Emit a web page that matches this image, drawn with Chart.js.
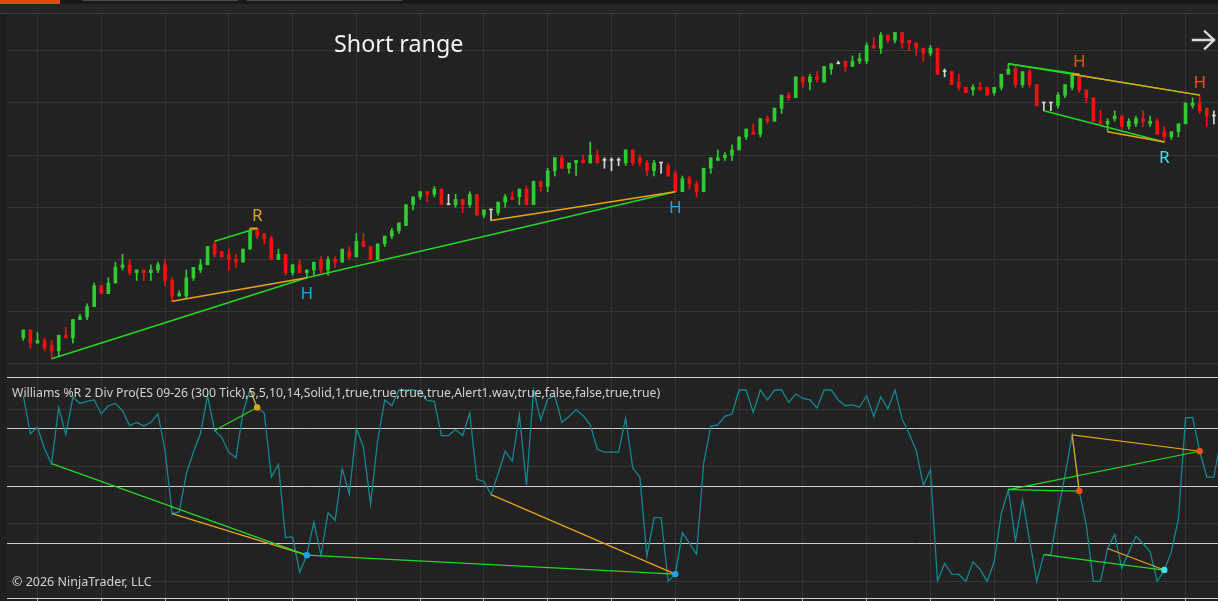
<!DOCTYPE html>
<html lang="en">
<head>
<meta charset="UTF-8">
<title>ES 09-26 (300 Tick) - Williams %R 2 Div Pro</title>
<script src="https://cdn.jsdelivr.net/npm/chart.js"></script>
<style>
  html, body { margin: 0; padding: 0; background: #1e1e1e; overflow: hidden; }
  #wrap { position: relative; width: 1218px; height: 601px; }
  .strip { position: absolute; left: 0; top: 0; width: 1218px; height: 4px; background: #191919; }
  .tab-on { position: absolute; left: 0; top: 0; width: 60px; height: 4px; background: #e2480f; }
  .tab { position: absolute; top: 0; height: 1px; background: #4a4a4a; }
  .band { position: absolute; left: 0; top: 4px; width: 1218px; height: 9px; background: #252525; border-bottom: 1px solid #3b3b3b; }
  canvas { position: absolute; left: 0; }
  #priceCanvas { top: 0; }
  #wrCanvas { top: 377px; }
  .rule { position: absolute; left: 7px; width: 1211px; height: 1px; background: #cdcdcd; }
  .txt { position: absolute; font-family: "Noto Sans", sans-serif; white-space: nowrap; }
  #title { left: 334px; top: 31px; font-size: 23.3px; line-height: 24px; color: #f2f2f2; }
  #indName { left: 12px; top: 387px; font-size: 12.25px; line-height: 12.5px; color: #d2d2d2; }
  #copy { left: 12px; top: 576px; font-size: 12.5px; line-height: 12.5px; color: #d2d2d2; }
  #arrow { position: absolute; left: 1190px; top: 28px; }
</style>
</head>
<body>
<div id="wrap">
  <div class="strip"></div>
  <div class="tab-on"></div>
  <div class="tab" style="left:83px;width:155px"></div>
  <div class="tab" style="left:247px;width:155px"></div>
  <div class="band"></div>
  <canvas id="priceCanvas" width="1218" height="377"></canvas>
  <canvas id="wrCanvas" width="1218" height="224"></canvas>
  <div class="rule" style="top:377px"></div>
  <div class="txt" id="title">Short range</div>
  <div class="txt" id="indName">Williams %R 2 Div Pro(ES 09-26 (300 Tick),5,5,10,14,Solid,1,true,true,true,true,Alert1.wav,true,false,false,true,true)</div>
  <div class="txt" id="copy">© 2026 NinjaTrader, LLC</div>
  <svg id="arrow" width="28" height="24" viewBox="0 0 28 24">
    <path d="M3 12 H24 M15 3.5 L24 12 L15 20.5" fill="none" stroke="#d9d9d9" stroke-width="2.4" stroke-linecap="square"/>
  </svg>
</div>

<script>
  // ES 09-26, 300 tick bars
  const open = [
    6492.5, 6493.25, 6492, 6492.25, 6491.75, 6491.25, 6492.75, 6492.5, 6494.25, 6494.5,
    6495.5, 6497.5, 6496.75, 6497.75, 6499.25, 6499.5, 6498.75, 6499, 6498.75, 6499,
    6499.5, 6498, 6496.5, 6496.5, 6498.25, 6499, 6499.5, 6501.5, 6500.75, 6500.5,
    6500, 6499.75, 6501, 6503, 6502.5, 6502, 6500, 6500.5, 6498.75, 6499.5,
    6498.75, 6499, 6500, 6499, 6500, 6499.75, 6500.75, 6500.25, 6501.75, 6501.25,
    6500, 6501.5, 6502.25, 6502.75, 6503.25, 6505.25, 6506, 6506.5, 6506.25, 6506.75,
    6505.25, 6505.25, 6505.75, 6505.25, 6506.25, 6504.25, 6504.75, 6504.5, 6505.5, 6506,
    6506, 6506.75, 6505.25, 6507.5, 6507, 6508.5, 6509.75, 6508.75, 6509.25, 6509.5,
    6509.25, 6510, 6509.5, 6509.5, 6509.5, 6509.25, 6510.5, 6509.75, 6509.25, 6508.5,
    6509.25, 6509, 6508.25, 6506.5, 6507.75, 6507.25, 6506.5, 6508.75, 6509.5, 6509.75,
    6510, 6510.5, 6511.75, 6512.25, 6512, 6513.5, 6513.25, 6514.5, 6515.75, 6515.5,
    6517.5, 6517, 6517.5, 6517, 6518.25, 6518.75, 6519, 6518.5, 6519, 6519,
    6520.5, 6520.25, 6521.5, 6521, 6521.75, 6521, 6520.75, 6520.25, 6519.75, 6520.25,
    6518, 6518, 6517, 6516.5, 6516.25, 6516.5, 6516.5, 6516, 6516.5, 6517.75,
    6518.25, 6516.75, 6518, 6516.75, 6515, 6515, 6514.75, 6515.75, 6516.5, 6517.5,
    6516.25, 6515.5, 6513.25, 6513, 6513.5, 6513.75, 6512.75, 6513, 6513.5, 6513,
    6513.25, 6512.25, 6511.75, 6512.25, 6513, 6514.75, 6515, 6514.5, 6513.75
  ];
  const high = [
    6493.25, 6493.25, 6493, 6492.5, 6492.25, 6492.75, 6493.5, 6494.25, 6494.75, 6495.75,
    6497.75, 6497.5, 6498.25, 6499.75, 6500.5, 6500, 6499, 6499, 6499.5, 6499.75,
    6500, 6498.25, 6497, 6499, 6499.25, 6500, 6501.25, 6501.75, 6500.75, 6501,
    6500.5, 6501, 6503, 6503, 6502.5, 6502.25, 6501, 6500.5, 6499.5, 6500,
    6499, 6499.75, 6500.25, 6500.25, 6500.25, 6501, 6501.25, 6502.5, 6502.5, 6501.25,
    6501.5, 6502.25, 6503, 6503.5, 6505.25, 6506, 6506.5, 6506.5, 6507, 6506.75,
    6506.25, 6506.25, 6505.75, 6506.5, 6506.25, 6504.75, 6504.75, 6505.5, 6506.25, 6506.5,
    6506.75, 6507, 6507.5, 6507.5, 6508.75, 6509.75, 6510, 6509.25, 6509.5, 6510,
    6511.25, 6510.5, 6509.75, 6509.75, 6509.75, 6510.5, 6510.5, 6510, 6509.5, 6509.5,
    6509.25, 6509.25, 6508.5, 6508, 6508, 6507.5, 6508.75, 6509.75, 6510.5, 6510.25,
    6511, 6511.75, 6512.5, 6513, 6513.5, 6513.75, 6514.5, 6515.75, 6516, 6517.5,
    6517.5, 6517.75, 6518, 6518.5, 6518.75, 6519, 6519, 6519.5, 6519.75, 6520.75,
    6521.25, 6521.75, 6521.5, 6521.75, 6521.75, 6521, 6520.75, 6520.25, 6520.5, 6520.25,
    6518.25, 6518, 6517.75, 6516.5, 6516.75, 6517, 6516.5, 6516.5, 6517.75, 6518.75,
    6518.5, 6518, 6518.25, 6516.75, 6515, 6515, 6516, 6516.75, 6517.75, 6517.75,
    6516.25, 6515.5, 6514.25, 6513.5, 6514.25, 6513.75, 6513.5, 6513.75, 6514.25, 6513.75,
    6513.5, 6512.75, 6512.25, 6513, 6515, 6515.5, 6515.75, 6514.5, 6514.25
  ];
  const low = [
    6492.25, 6491.5, 6492, 6491.25, 6490.5, 6490.75, 6492.5, 6492, 6494.25, 6494.25,
    6495.5, 6496.75, 6496.75, 6497.75, 6499, 6498.5, 6498, 6498, 6498, 6498.75,
    6497.5, 6496, 6496.5, 6496.25, 6498, 6498.75, 6499.5, 6500.25, 6500.25, 6499,
    6499.25, 6499.75, 6501, 6502, 6501.5, 6500, 6500, 6498.5, 6498.5, 6498.75,
    6498.25, 6498.5, 6498.75, 6498.5, 6499.25, 6499.75, 6500, 6500.25, 6501.25, 6500,
    6500, 6501.25, 6502, 6502.5, 6503.25, 6504.75, 6505.75, 6505.5, 6506, 6505.25,
    6505.25, 6505, 6504.5, 6505, 6504.25, 6504, 6503.75, 6504.25, 6505, 6505.75,
    6505.25, 6505.25, 6505.25, 6506.5, 6506.5, 6508, 6508.75, 6508.25, 6508, 6509.25,
    6509.25, 6509.25, 6508.75, 6508.5, 6509, 6509, 6509, 6509, 6508, 6508,
    6508.25, 6508, 6506.5, 6506.5, 6506.75, 6506, 6506.5, 6508.25, 6509.5, 6509.5,
    6509.5, 6510.5, 6511.5, 6512, 6511.75, 6513, 6513.25, 6514, 6515.25, 6515.5,
    6516.5, 6516.25, 6517, 6517, 6517.75, 6518.75, 6518, 6518.5, 6518.75, 6518.75,
    6520.25, 6519.75, 6520.75, 6520.75, 6520.25, 6520, 6519.5, 6519, 6519.5, 6517.75,
    6517.5, 6516.75, 6516.25, 6516, 6515.75, 6516.25, 6515.75, 6515.75, 6516.25, 6517.75,
    6516.5, 6516.5, 6516.5, 6514.75, 6514.25, 6514.25, 6514.5, 6515.5, 6516.25, 6516,
    6515, 6513.25, 6513, 6512.25, 6513.25, 6512.5, 6512.5, 6512.75, 6512.75, 6512.75,
    6512, 6511.25, 6511.5, 6511.75, 6513, 6514.5, 6514, 6512.75, 6513
  ];
  const close = [
    6493.25, 6492, 6492.25, 6491.5, 6491.25, 6492.75, 6492.5, 6494.25, 6494.5, 6495.5,
    6497.5, 6496.75, 6497.75, 6499.25, 6499.5, 6498.75, 6499, 6498.75, 6499, 6499.5,
    6498, 6496.5, 6496.75, 6498.25, 6499.25, 6499.5, 6501.25, 6500.5, 6500.25, 6500,
    6499.75, 6501, 6502.75, 6502.25, 6502, 6500, 6500.5, 6498.75, 6499.5, 6498.75,
    6499, 6499.75, 6499, 6500, 6499.75, 6501, 6500.25, 6501.75, 6501.25, 6500,
    6501.5, 6502.25, 6502.75, 6503.5, 6505.25, 6506, 6506.5, 6506.25, 6506.75, 6505.25,
    6505.25, 6505.75, 6505.25, 6506.25, 6504.25, 6504.75, 6504.75, 6505.5, 6506, 6505.75,
    6506.75, 6505.25, 6507.5, 6507, 6508.5, 6509.75, 6508.75, 6509.25, 6509.5, 6509.25,
    6510, 6509.25, 6509.5, 6509.5, 6509.5, 6510.5, 6509.25, 6509.25, 6508.5, 6509.25,
    6509.25, 6508, 6506.5, 6507.75, 6507.25, 6506.5, 6508.75, 6509.75, 6509.75, 6510,
    6510.5, 6511.75, 6512.5, 6512, 6513.5, 6513.25, 6514.5, 6515.75, 6515.5, 6517.5,
    6517, 6517.5, 6517.25, 6518.5, 6518.75, 6518.75, 6518.5, 6519, 6519.25, 6520.5,
    6520.25, 6521.5, 6521, 6521.75, 6520.75, 6520.75, 6520.25, 6519.75, 6520.25, 6517.75,
    6518, 6516.75, 6516.5, 6516, 6516.5, 6516.25, 6515.75, 6516.5, 6517.75, 6518.25,
    6516.75, 6518, 6516.75, 6514.75, 6515, 6515, 6515.75, 6516.75, 6517.75, 6516.25,
    6515.5, 6513.25, 6513, 6513.25, 6513.75, 6512.75, 6513.25, 6513.5, 6513.25, 6513.25,
    6512, 6511.75, 6512.25, 6513, 6515, 6515, 6514.25, 6513.75, 6513.75
  ];

  // Williams %R (14), one value per bar (last one is the bar just past the right edge)
  const willR = [
    -3, -22.9, -19.5, -30.7, -38.5, -9.1, -23.3, -3.8, -7, -5.9,
    -5.1, -12.5, -8.2, -7, -10.8, -18.6, -16.9, -18.8, -16.9, -12.5,
    -31.6, -64.6, -63.7, -43.8, -32.5, -22.9, -3, -21.2, -24.7, -32.5,
    -35.4, -11.7, 0, -9.1, -12, -45.5, -38.9, -77.1, -76.8, -95.3,
    -86.3, -69, -86.3, -64.1, -68.1, -41.1, -54.5, -20.3, -29.9, -59.7,
    -26.4, -5.2, -8.2, 0, 0, 0, -0.7, -5.6, -5.9, -23.8,
    -23.8, -20.7, -23.8, -12, -46.7, -47.8, -54.7, -43.8, -32, -37.3,
    -13, -49.8, 0, -15.6, -4.7, -3, -16.9, -13.8, -10.3, -13.4,
    -18.2, -31.1, -32.5, -32.5, -32.5, -14.6, -40.8, -45.5, -86.8, -66.7,
    -66.7, -100, -96.2, -74.5, -80.2, -85.8, -38.5, -19, -18.2, -13.8,
    -12.5, 0, 0, -11.7, 0, -5.2, 0, 0, -6.5, -2.1,
    -4.4, -5.1, -9.4, 0, 0, -5.2, -8.2, -7.8, -8.9, -3,
    -13.8, -3.5, -9.9, 0, -15.1, -22.9, -31.6, -49.8, -41.7, -100,
    -90.6, -96.2, -96.4, -100, -89.8, -93.6, -100, -89.8, -64.6, -52.1,
    -78.8, -57.3, -78.5, -100, -86, -86, -63.7, -44.3, -23.4, -52.8,
    -70.7, -100, -100, -82.8, -75.5, -93.2, -84.6, -76.4, -80.2, -84.6,
    -100, -94.1, -84.6, -67.2, -14.6, -14.3, -32, -45.5, -45.5, -25
  ];

  // divergence segments: from bar -> to bar; 'g' = main line, 'o' = secondary
  const divFrom = [4, 21, 27, 32, 40, 66, 139, 148, 139, 148, 144, 153];
  const divTo = [40, 40, 33, 33, 92, 92, 149, 149, 166, 166, 161, 161];
  const divKind = ['g', 'o', 'g', 'o', 'g', 'o', 'g', 'o', 'g', 'o', 'g', 'o'];

  // signal markers
  const sigBar = [33, 40, 92, 149, 161, 166];
  const sigText = ['R', 'H', 'H', 'H', 'R', 'H'];
  const sigSide = ['high', 'low', 'low', 'high', 'low', 'high'];

  // grid / levels
  const priceGrid = [6490, 6495, 6500, 6505, 6510, 6515, 6520];
  const wrGrid = [-100, -70, -40, -10];
  const wrLevels = [-20, -50, -80];
  const barGrid = [2, 11, 20, 29, 38, 47, 56, 65, 74, 83, 92, 101, 110, 119, 128, 137, 146, 155, 164];

  const UP = '#2fcc2f', DOWN = '#f01111', DOJI = '#d6d6d6';
  const GRID = '#343434', PANEL = '#222222';
  const divColor = { g: '#25d625', o: '#e8a21a' };

  function sigColor(k) {
    if (sigText[k] === 'R') return sigSide[k] === 'high' ? '#d9a521' : '#3fe3ea';
    return sigSide[k] === 'high' ? '#f0501a' : '#1ea2ea';
  }
  function sideOf(bar) {
    return sigSide[sigBar.indexOf(bar)];
  }

  const candleColor = open.map((o, i) => close[i] > o ? UP : close[i] < o ? DOWN : DOJI);

  const panelBg = {
    id: 'panelBg',
    beforeDraw(chart) {
      const { ctx, chartArea: a } = chart;
      ctx.save();
      ctx.fillStyle = PANEL;
      ctx.fillRect(a.left, a.top, a.right - a.left, a.bottom - a.top);
      ctx.restore();
    }
  };

  const xAxis = (tickLen) => ({
    type: 'linear',
    min: -2.3,
    max: 168.58,
    offset: false,
    grid: { color: GRID, offset: false, drawTicks: tickLen > 0, tickLength: tickLen, tickColor: '#bdbdbd' },
    border: { display: tickLen > 0, color: '#cdcdcd' },
    ticks: { display: false },
    afterBuildTicks: axis => { axis.ticks = barGrid.map(v => ({ value: v })); },
    afterFit: axis => { axis.height = tickLen; }
  });

  // ---- price panel ----
  const signalLabels = {
    id: 'signalLabels',
    afterDatasetsDraw(chart) {
      const { ctx, scales: { x, y } } = chart;
      ctx.save();
      ctx.font = '17px "Noto Sans", sans-serif';
      ctx.textAlign = 'center';
      ctx.textBaseline = 'middle';
      sigBar.forEach((b, k) => {
        const above = sigSide[k] === 'high';
        const py = y.getPixelForValue(above ? high[b] : low[b]) + (above ? -12 : 16);
        ctx.fillStyle = sigColor(k);
        ctx.fillText(sigText[k], x.getPixelForValue(b), py);
      });
      ctx.restore();
    }
  };

  const priceDivs = divFrom.map((f, k) => {
    const t = divTo[k];
    const src = sideOf(t) === 'high' ? high : low;
    return {
      type: 'line',
      data: [{ x: f, y: src[f] }, { x: t, y: src[t] }],
      borderColor: divColor[divKind[k]],
      borderWidth: 1.5,
      pointRadius: 0,
      order: divKind[k] === 'o' ? 1 : 2
    };
  });

  new Chart(document.getElementById('priceCanvas'), {
    type: 'bar',
    data: {
      datasets: [
        ...priceDivs,
        {
          type: 'bar',
          data: open.map((o, i) => ({ x: i, y: [o, close[i]] })),
          backgroundColor: candleColor,
          barThickness: 3,
          minBarLength: 1,
          grouped: false,
          borderWidth: 0,
          order: 3
        },
        {
          type: 'bar',
          data: low.map((l, i) => ({ x: i, y: [l, high[i]] })),
          backgroundColor: candleColor,
          barThickness: 1,
          grouped: false,
          borderWidth: 0,
          order: 4
        }
      ]
    },
    options: {
      responsive: false,
      animation: false,
      events: [],
      layout: { autoPadding: false, padding: { left: 7, top: 14, right: 0, bottom: 0 } },
      plugins: { legend: { display: false }, tooltip: { enabled: false } },
      scales: {
        x: xAxis(0),
        y: {
          position: 'right',
          min: 6488.75,
          max: 6523.52,
          grid: { color: GRID, drawTicks: false },
          border: { display: false },
          ticks: { display: false },
          afterBuildTicks: axis => { axis.ticks = priceGrid.map(v => ({ value: v })); },
          afterFit: axis => { axis.width = 0; }
        }
      }
    },
    plugins: [panelBg, signalLabels]
  });

  // ---- Williams %R panel ----
  const levelLines = {
    id: 'levelLines',
    beforeDatasetsDraw(chart) {
      const { ctx, chartArea: a, scales: { y } } = chart;
      ctx.save();
      ctx.strokeStyle = '#cbcbcb';
      ctx.lineWidth = 1;
      wrLevels.forEach(v => {
        const py = Math.round(y.getPixelForValue(v)) + 0.5;
        ctx.beginPath();
        ctx.moveTo(a.left, py);
        ctx.lineTo(a.right, py);
        ctx.stroke();
      });
      ctx.restore();
    }
  };

  const wrDivs = divFrom.map((f, k) => ({
    data: [{ x: f, y: willR[f] }, { x: divTo[k], y: willR[divTo[k]] }],
    borderColor: divColor[divKind[k]],
    borderWidth: 1.2,
    pointRadius: 0,
    order: divKind[k] === 'o' ? 2 : 1
  }));

  new Chart(document.getElementById('wrCanvas'), {
    type: 'line',
    data: {
      datasets: [
        {
          data: sigBar.map(b => ({ x: b, y: willR[b] })),
          showLine: false,
          pointRadius: 3.2,
          pointBorderWidth: 0,
          pointBackgroundColor: sigBar.map((b, k) => sigColor(k)),
          order: 0
        },
        ...wrDivs,
        {
          data: willR.map((v, i) => ({ x: i, y: v })),
          borderColor: '#13878d',
          borderWidth: 1.3,
          pointRadius: 0,
          tension: 0,
          order: 3
        }
      ]
    },
    options: {
      responsive: false,
      animation: false,
      events: [],
      layout: { autoPadding: false, padding: { left: 7, top: 0, right: 0, bottom: 0 } },
      plugins: { legend: { display: false }, tooltip: { enabled: false } },
      scales: {
        x: xAxis(3),
        y: {
          position: 'right',
          min: -108.7,
          max: 6.8,
          grid: { color: GRID, drawTicks: false },
          border: { display: false },
          ticks: { display: false },
          afterBuildTicks: axis => { axis.ticks = wrGrid.map(v => ({ value: v })); },
          afterFit: axis => { axis.width = 0; }
        }
      }
    },
    plugins: [panelBg, levelLines]
  });
</script>
</body>
</html>
